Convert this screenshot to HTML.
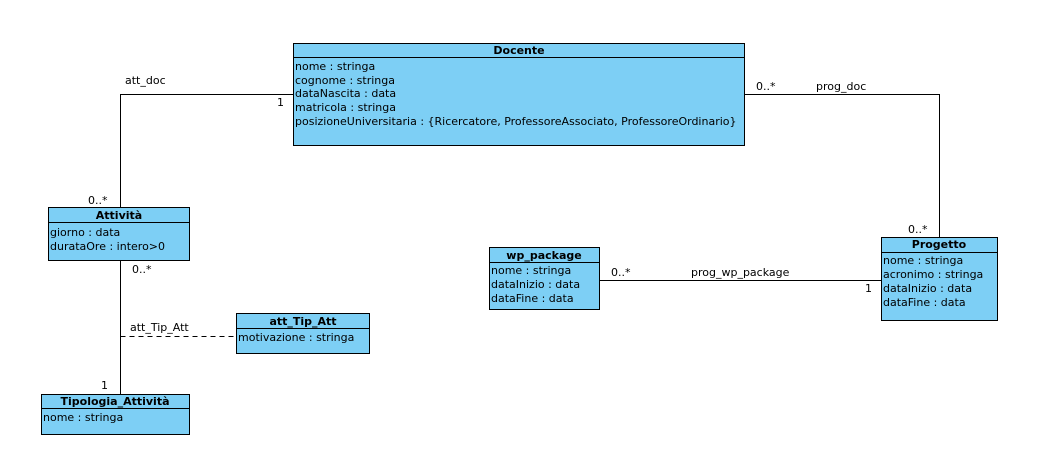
<!DOCTYPE html>
<html><head><meta charset="utf-8"><style>
html,body{margin:0;padding:0;background:#fff;width:1042px;height:469px;overflow:hidden}
svg text{font-family:"DejaVu Sans","Liberation Sans",sans-serif;font-size:11px;fill:#000}
.h{font-weight:bold;text-anchor:middle}
</style></head><body>
<svg width="1042" height="469" xmlns="http://www.w3.org/2000/svg">
<g fill="none" stroke="#000" stroke-width="1">
<polyline points="120.5,207 120.5,94.5 293,94.5"/>
<polyline points="745,94.5 939.5,94.5 939.5,237"/>
<line x1="120.5" y1="261" x2="120.5" y2="394"/>
<line x1="120.5" y1="336.5" x2="236" y2="336.5" stroke-dasharray="5,4"/>
<line x1="600" y1="280.5" x2="881" y2="280.5"/>
</g>
<g fill="#7dcff5" stroke="#000" stroke-width="1">
<rect x="293.5" y="43.5" width="451" height="102"/><line x1="293.5" y1="57.5" x2="744.5" y2="57.5"/>
<rect x="48.5" y="207.5" width="141" height="53"/><line x1="48.5" y1="222.5" x2="189.5" y2="222.5"/>
<rect x="41.5" y="394.5" width="148" height="40"/><line x1="41.5" y1="408.5" x2="189.5" y2="408.5"/>
<rect x="236.5" y="313.5" width="133" height="40"/><line x1="236.5" y1="328.5" x2="369.5" y2="328.5"/>
<rect x="489.5" y="247.5" width="110" height="62"/><line x1="489.5" y1="262.5" x2="599.5" y2="262.5"/>
<rect x="881.5" y="237.5" width="116" height="83"/><line x1="881.5" y1="252.5" x2="997.5" y2="252.5"/>
</g>
<text class="h" x="519" y="54">Docente</text>
<text x="295" y="70">nome : stringa</text>
<text x="295" y="84">cognome : stringa</text>
<text x="295" y="97">dataNascita : data</text>
<text x="295" y="111">matricola : stringa</text>
<text x="295" y="125">posizioneUniversitaria : {Ricercatore, ProfessoreAssociato, ProfessoreOrdinario}</text>

<text class="h" x="119" y="219">Attività</text>
<text x="50" y="236">giorno : data</text>
<text x="50" y="250">durataOre : intero&gt;0</text>

<text class="h" x="115" y="405">Tipologia_Attività</text>
<text x="43" y="421">nome : stringa</text>

<text class="h" x="303" y="325">att_Tip_Att</text>
<text x="238" y="341">motivazione : stringa</text>

<text class="h" x="544" y="259">wp_package</text>
<text x="491" y="274">nome : stringa</text>
<text x="491" y="288">dataInizio : data</text>
<text x="491" y="302">dataFine : data</text>

<text class="h" x="939" y="248">Progetto</text>
<text x="883" y="264">nome : stringa</text>
<text x="883" y="278">acronimo : stringa</text>
<text x="883" y="292">dataInizio : data</text>
<text x="883" y="306">dataFine : data</text>

<text x="125" y="84">att_doc</text>
<text x="277" y="106">1</text>
<text x="88" y="204">0..*</text>
<text x="756" y="90">0..*</text>
<text x="816" y="90">prog_doc</text>
<text x="908" y="233">0..*</text>
<text x="132" y="273">0..*</text>
<text x="130" y="331">att_Tip_Att</text>
<text x="101" y="389">1</text>
<text x="611" y="276">0..*</text>
<text x="691" y="276">prog_wp_package</text>
<text x="865" y="292">1</text>
</svg>
</body></html>
